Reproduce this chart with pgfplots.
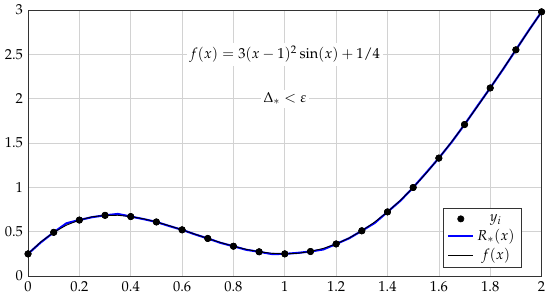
\documentclass[border=0pt]{standalone}
\usepackage{mathpazo}
\usepackage{pgfplots}
\pgfplotsset{compat=1.18}

% f(x) = 3(x-1)^2 sin(x) + 1/4, tabulated
\pgfplotstableread{
x     f
0.00  0.2500
0.05  0.3853
0.10  0.4926
0.15  0.5739
0.20  0.6314
0.25  0.6675
0.30  0.6844
0.35  0.6846
0.40  0.6706
0.45  0.6447
0.50  0.6096
0.55  0.5675
0.60  0.5210
0.65  0.4724
0.70  0.4239
0.75  0.3778
0.80  0.3361
0.85  0.3007
0.90  0.2735
0.95  0.2561
1.00  0.2500
1.05  0.2565
1.10  0.2767
1.15  0.3116
1.20  0.3618
1.25  0.4279
1.30  0.5102
1.35  0.6086
1.40  0.7230
1.45  0.8531
1.50  0.9981
1.55  1.1573
1.60  1.3295
1.65  1.5135
1.70  1.7077
1.75  1.9105
1.80  2.1198
1.85  2.3336
1.90  2.5495
1.95  2.7652
2.00  2.9779
}\ftab

% approximation R_*(x)
\pgfplotstableread{
x     r
0.00  0.2500
0.05  0.3800
0.10  0.4926
0.15  0.5950
0.20  0.6314
0.25  0.6640
0.30  0.6844
0.35  0.7000
0.40  0.6706
0.45  0.6420
0.50  0.6096
0.55  0.5640
0.60  0.5210
0.65  0.4700
0.70  0.4239
0.75  0.3740
0.80  0.3361
0.85  0.2960
0.90  0.2735
0.95  0.2480
1.00  0.2500
1.05  0.2610
1.10  0.2767
1.15  0.3000
1.20  0.3618
1.25  0.4250
1.30  0.5102
1.35  0.5980
1.40  0.7230
1.45  0.8480
1.50  0.9981
1.55  1.1620
1.60  1.3295
1.65  1.5100
1.70  1.7077
1.75  1.9150
1.80  2.1198
1.85  2.3300
1.90  2.5495
1.95  2.7680
2.00  2.9779
}\rtab

% interpolation nodes y_i
\pgfplotstableread{
x    y
0.0  0.2500
0.1  0.4926
0.2  0.6314
0.3  0.6844
0.4  0.6706
0.5  0.6096
0.6  0.5210
0.7  0.4239
0.8  0.3361
0.9  0.2735
1.0  0.2500
1.1  0.2767
1.2  0.3618
1.3  0.5102
1.4  0.7230
1.5  0.9981
1.6  1.3295
1.7  1.7077
1.8  2.1198
1.9  2.5495
2.0  2.9779
}\ytab

\begin{document}
\begin{tikzpicture}
\begin{axis}[
    scale only axis,
    width  = 355pt,
    height = 184pt,
    xmin = 0, xmax = 2,
    ymin = 0, ymax = 3,
    xtick = {0,0.2,...,2},
    ytick = {0,0.5,...,3},
    grid = major,
    grid style = {gray!35},
    axis line style = {black!80},
    tick style = {draw=none},
    legend style = {at={(0.962,0.03)}, anchor=south east,
                    draw=black!80, font=\normalsize,
                    row sep=0pt},
    legend cell align = center,
]
\addplot[only marks, mark=*, mark size=2.2pt, black] table[x=x, y=y] {\ytab};
\addlegendentry{$y_i$}
\addplot[blue, line width=1.45pt] table[x=x, y=r] {\rtab};
\addlegendentry{$R_*(x)$}
\addplot[black, line width=0.6pt] table[x=x, y=f] {\ftab};
\addlegendentry{$f(x)$}
\addplot[only marks, mark=*, mark size=2.2pt, black, forget plot] table[x=x, y=y] {\ytab};

\node[fill=white, inner sep=2pt] at (axis cs:1,2.5) {$f(x) = 3(x-1)^2\sin(x) + 1/4$};
\node[fill=white, inner sep=2pt] at (axis cs:1,2) {$\Delta_* < \varepsilon$};
\end{axis}
\end{tikzpicture}
\end{document}
